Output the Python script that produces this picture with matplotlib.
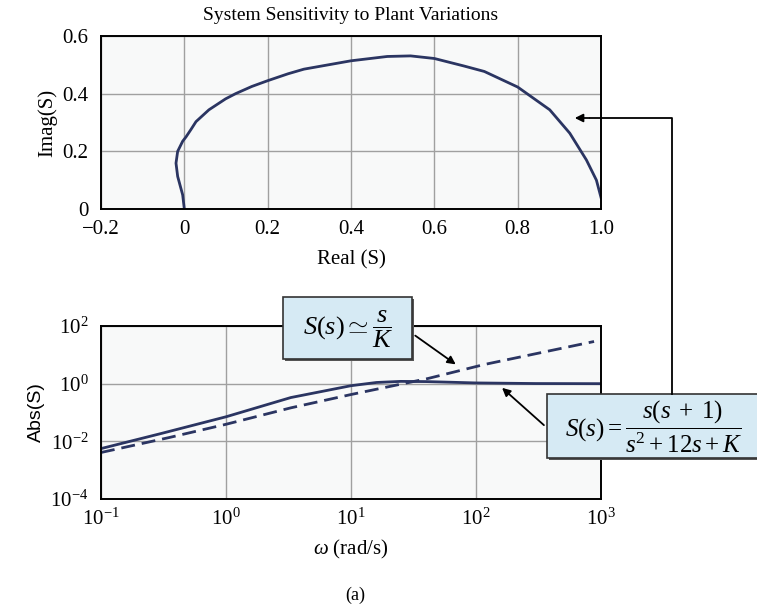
import numpy as np
import matplotlib
matplotlib.use('Agg')
import matplotlib.pyplot as plt
from matplotlib.patches import Rectangle

plt.rcParams['font.family'] = ['Liberation Serif', 'DejaVu Serif']
plt.rcParams['mathtext.fontset'] = 'custom'
plt.rcParams['mathtext.rm'] = 'Liberation Serif'
plt.rcParams['mathtext.it'] = 'Liberation Serif:italic'
plt.rcParams['mathtext.bf'] = 'Liberation Serif:bold'

# Nyquist-type plot of S(jw)
re_s = [0.0, -0.004, -0.016, -0.020, -0.016, -0.004, 0.004, 0.016, 0.028, 0.059,
        0.099, 0.123, 0.162, 0.200, 0.249, 0.287, 0.400, 0.487, 0.543, 0.600,
        0.671, 0.720, 0.800, 0.877, 0.925, 0.965, 0.989, 1.0]
im_s = [0.0, 0.049, 0.113, 0.159, 0.200, 0.235, 0.250, 0.276, 0.303, 0.344,
        0.382, 0.400, 0.425, 0.445, 0.469, 0.485, 0.514, 0.529, 0.531, 0.522,
        0.496, 0.477, 0.423, 0.344, 0.263, 0.170, 0.100, 0.040]

# |S(jw)| exact and approximation s/K
w_exact = [0.1, 0.3, 1, 3.3, 10, 16, 25, 40, 63, 100, 300, 1000]
abs_exact = [0.0056, 0.0185, 0.071, 0.33, 0.85, 1.1, 1.2, 1.18, 1.12, 1.06, 1.01, 1.0]
w_approx = [0.1, 0.35, 1, 3.3, 10, 41, 116, 880]
abs_approx = [0.0041, 0.0135, 0.039, 0.145, 0.42, 1.5, 4.6, 29]

re_ticks = [-0.2, 0, 0.2, 0.4, 0.6, 0.8, 1.0]
re_labels = ['\u22120.2', '0', '0.2', '0.4', '0.6', '0.8', '1.0']
im_ticks = [0, 0.2, 0.4, 0.6]
im_labels = ['0', '0.2', '0.4', '0.6']

W, H = 757, 612
line_col = '#2b3562'
grid_col = '#a0a0a0'
box_col = '#d6eaf4'

fig = plt.figure(figsize=(W / 100, H / 100), dpi=100)

def px_axes(x0, y0, x1, y1):
    return fig.add_axes([x0 / W, 1 - y1 / H, (x1 - x0) / W, (y1 - y0) / H])

# top panel
ax1 = px_axes(101, 36, 601, 209)
ax1.set_facecolor('#f8f9f9')
ax1.plot(re_s, im_s, color=line_col, lw=2)
ax1.set_xlim(-0.2, 1.0)
ax1.set_ylim(0, 0.6)
ax1.set_xticks(re_ticks)
ax1.set_xticklabels(re_labels)
ax1.set_yticks(im_ticks)
ax1.set_yticklabels(im_labels)
ax1.grid(True, color=grid_col, lw=1)
ax1.tick_params(axis='x', length=0, labelsize=15, pad=8)
ax1.tick_params(axis='y', length=0, labelsize=15, pad=9)
ax1.set_xlabel('Real (S)', fontsize=15, labelpad=8)
ax1.set_ylabel('Imag(S)', fontsize=15, labelpad=4)
for sp in ax1.spines.values():
    sp.set_linewidth(1.4)

# bottom panel
ax2 = px_axes(101, 326, 601, 499)
ax2.set_facecolor('#f8f9f9')
ax2.loglog(w_exact, abs_exact, color=line_col, lw=2)
ax2.loglog(w_approx, abs_approx, color=line_col, lw=2, ls=(0, (5, 2.5)))
ax2.set_xlim(0.1, 1000)
ax2.set_ylim(1e-4, 1e2)
ax2.set_xticks([0.1, 1, 10, 100, 1000])
ax2.set_yticks([1e-4, 1e-2, 1e0, 1e2])
ax2.minorticks_off()
ax2.grid(True, color=grid_col, lw=1)
ax2.tick_params(axis='x', length=0, labelsize=15, pad=7)
ax2.tick_params(axis='y', length=0, labelsize=15, pad=9)
ax2.set_xlabel(r'$\omega$ (rad/s)', fontsize=15, labelpad=6)
ax2.set_ylabel('Abs(S)', fontsize=14, family='Liberation Sans', labelpad=4)
for sp in ax2.spines.values():
    sp.set_linewidth(1.4)

fig.text(351 / W, 1 - 16 / H, 'System Sensitivity to Plant Variations',
         ha='center', va='center', fontsize=14)
fig.text(355 / W, 1 - 595 / H, '(a)', ha='center', va='center', fontsize=13)

# overlay in pixel coordinates for callouts
ov = fig.add_axes([0, 0, 1, 1], zorder=10)
ov.set_xlim(0, W)
ov.set_ylim(H, 0)
ov.axis('off')
ov.patch.set_visible(False)

# connector from lower box to the top curve
ov.plot([672, 672, 590], [394, 118, 118], color='k', lw=1.3)
ov.annotate('', xy=(572, 118), xytext=(592, 118),
            arrowprops=dict(arrowstyle='-|>', color='k', lw=1.3, mutation_scale=12))

def callout(x0, y0, x1, y1, text, fs):
    ov.add_patch(Rectangle((x0 + 2, y0 + 2), x1 - x0, y1 - y0, facecolor='#555555',
                           edgecolor='none'))
    ov.add_patch(Rectangle((x0, y0), x1 - x0, y1 - y0, facecolor=box_col,
                           edgecolor='#333333', lw=1.2))
    ov.text((x0 + x1) / 2, (y0 + y1) / 2 + 1, text, ha='center', va='center', fontsize=fs)

callout(283, 297, 412, 359, r'$S(s) \simeq \dfrac{s}{K}$', 19)
callout(547, 394, 760, 458, r'$S(s) = \dfrac{s(s\;+\;1)}{s^2 + 12s + K}$', 18)

ov.annotate('', xy=(458, 366), xytext=(413, 334),
            arrowprops=dict(arrowstyle='-|>', color='k', lw=1.3, mutation_scale=12))
ov.annotate('', xy=(500, 386), xytext=(546, 427),
            arrowprops=dict(arrowstyle='-|>', color='k', lw=1.3, mutation_scale=12))

fig.savefig('out.png', dpi=100)
